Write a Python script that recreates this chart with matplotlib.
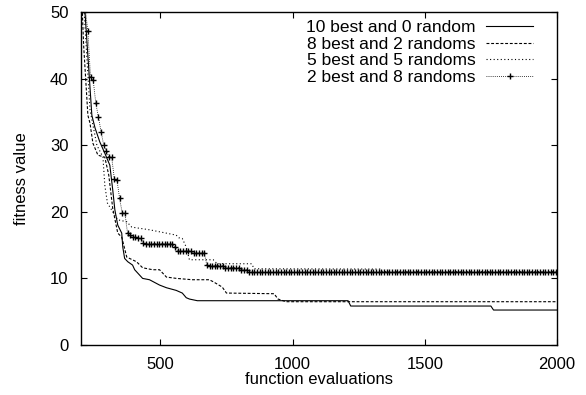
import matplotlib.pyplot as plt
import numpy as np

plt.rcParams['font.family'] = ['Liberation Sans', 'DejaVu Sans']

# 10 best and 0 random
best10_x = [200, 215, 241, 253, 271, 290, 309, 320, 328, 339, 354, 358, 365, 377, 395, 403,
            433, 459, 497, 523, 560, 583, 598, 610, 640, 1210, 1220, 1750, 1760, 2000]
best10_y = [58, 50, 34.5, 32.6, 30.5, 28.8, 27, 23.3, 20.3, 18, 16.8, 14.7, 13, 12.5, 12, 11.3,
            10, 9.8, 9, 8.6, 8.2, 7.8, 7.1, 6.9, 6.65, 6.65, 5.85, 5.85, 5.25, 5.25]

# 8 best and 2 randoms
best8_x = [200, 210, 226, 234, 245, 264, 290, 305, 320, 339, 354, 373, 410, 433, 471, 497,
           523, 561, 621, 685, 700, 734, 750, 930, 945, 975, 2000]
best8_y = [55, 45, 34.5, 33.3, 30.3, 28.5, 28.2, 25.5, 20.5, 16.8, 16.2, 13.2, 12.5, 11.6, 11.3, 11.3,
           10.2, 10, 9.8, 9.8, 9.5, 8.7, 7.8, 7.7, 6.9, 6.5, 6.5]

# 5 best and 5 randoms
best5_x = [200, 212, 234, 260, 283, 290, 300, 339, 373, 392, 459, 560, 570, 583, 598, 610,
           700, 715, 845, 855, 1330, 1340, 2000]
best5_y = [60, 50, 35.3, 30, 28.2, 24, 21.3, 18.8, 18.5, 17.7, 17.3, 16.5, 16.1, 16.0, 14.7, 12.8,
           12.8, 12.2, 12.2, 11.45, 11.4, 11.0, 11.0]

# 2 best and 8 randoms (one sample every 10 evaluations, as run lengths)
best2_start = 206
best2_step = 10
best2_levels = [56, 50.5, 47.1, 40.2, 39.8, 36.3, 34.2, 32, 30, 29.1, 28.2, 25.0, 24.8, 22, 19.8,
                16.8, 16.5, 16.2, 16.0, 15.3, 15.2, 14.7, 14.1, 13.8, 12.0, 11.9, 11.6, 11.3, 10.9]
best2_runs = [1, 1, 1, 1, 1, 1, 1, 1, 1, 1, 2, 1, 1, 1, 2,
              1, 1, 2, 2, 1, 11, 1, 6, 5, 1, 6, 6, 3, 117]

best2_y = np.repeat(best2_levels, best2_runs)
best2_x = best2_start + best2_step * np.arange(len(best2_y))

fig = plt.figure(figsize=(5.86, 3.95), dpi=100)
ax = fig.add_axes([81 / 586, 1 - 345 / 395, 476 / 586, 333 / 395])

lw = 0.8
ax.plot(best10_x, best10_y, color='black', lw=lw, label='10 best and 0 random')
ax.plot(best8_x, best8_y, color='black', lw=lw, linestyle=(0, (2.6, 1.6)),
        label='8 best and 2 randoms')
ax.plot(best5_x, best5_y, color='black', lw=lw, linestyle=(0, (1, 2.2)),
        label='5 best and 5 randoms')
ax.plot(best2_x, best2_y, color='black', lw=0.6, linestyle=(0, (1, 1.5)),
        marker='+', markersize=4.2, markeredgewidth=1.0, label='2 best and 8 randoms')

ax.set_xlim(200, 2000)
ax.set_ylim(0, 50)
ax.set_xticks([500, 1000, 1500, 2000])
ax.set_yticks([0, 10, 20, 30, 40, 50])
ax.tick_params(direction='in', top=True, right=True, length=4, width=0.8,
               labelsize=12, colors='black')
ax.tick_params(axis='x', pad=8.5)
ax.tick_params(axis='y', pad=9)
for s in ax.spines.values():
    s.set_linewidth(1.0)

ax.set_xlabel('function evaluations', fontsize=12, labelpad=0)
ax.set_ylabel('fitness value', fontsize=12)
ax.yaxis.set_label_coords(-0.11, 0.5)

ax.legend(loc='upper right', bbox_to_anchor=(0.95, 0.976), frameon=False,
          markerfirst=False, fontsize=12.5, handlelength=2.7, handletextpad=0.62,
          labelspacing=0.08, borderpad=0, borderaxespad=0, numpoints=1)

fig.savefig('out.png', dpi=100)
plt.close(fig)
